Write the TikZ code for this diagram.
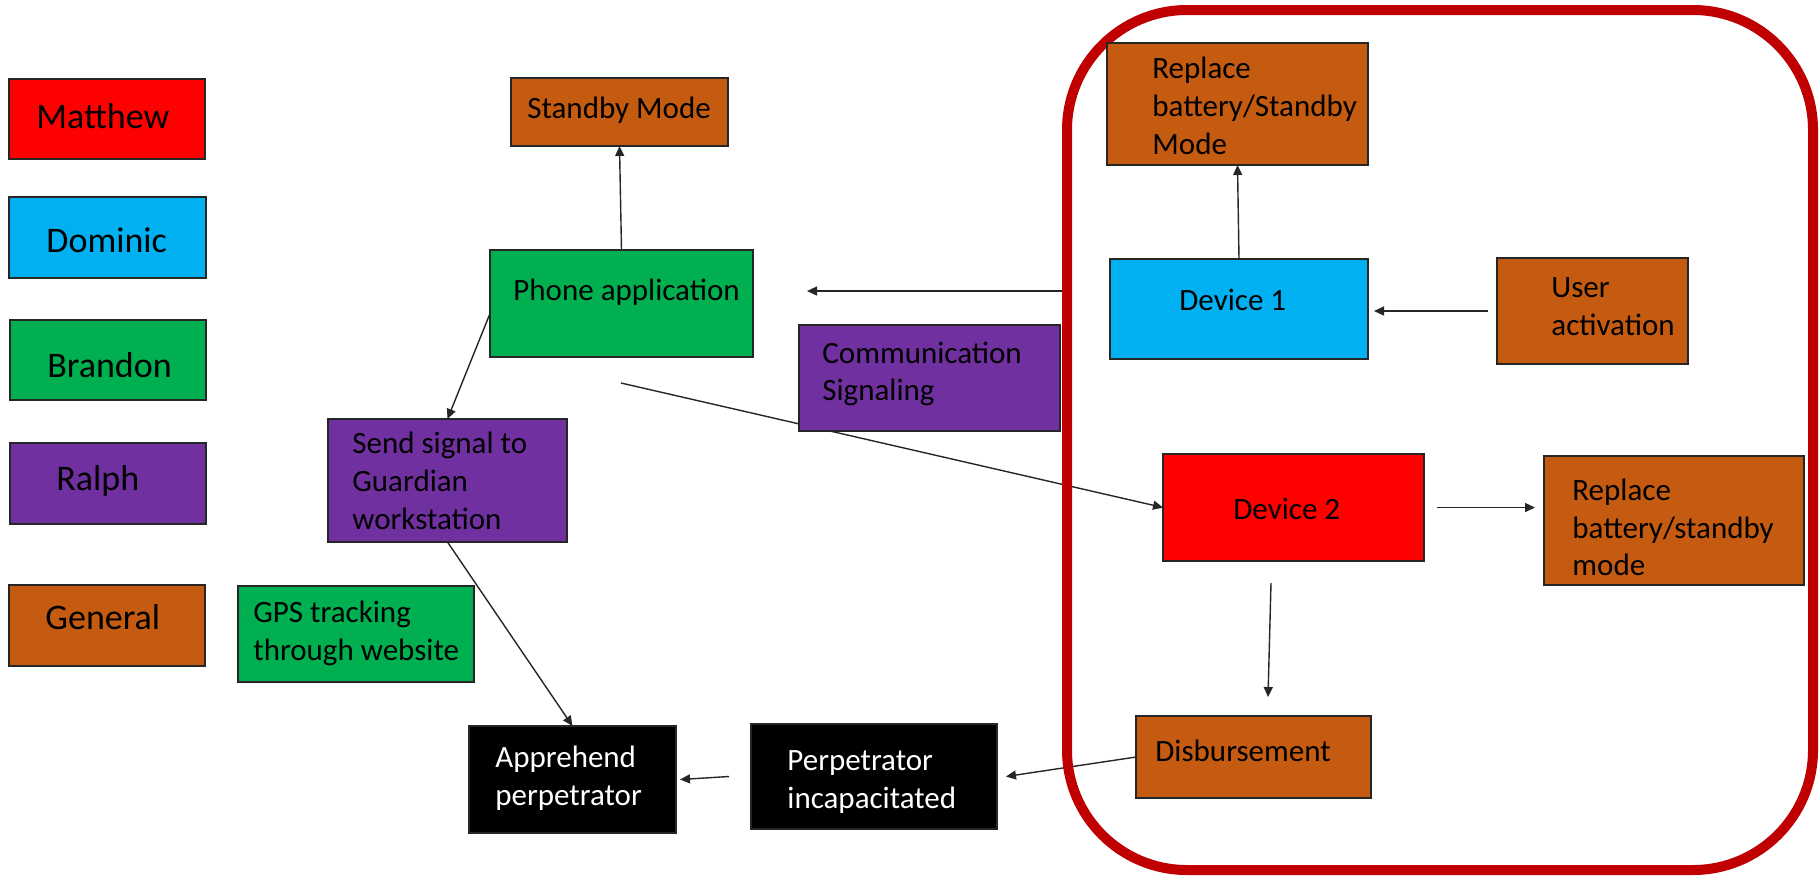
\documentclass[tikz,border=0pt]{standalone}
\usepackage{fontspec}
\setmainfont{Carlito}
\usetikzlibrary{arrows.meta,fit,backgrounds}

\definecolor{cRed}{HTML}{FF0000}
\definecolor{cBlue}{HTML}{00B0F0}
\definecolor{cGreen}{HTML}{00B050}
\definecolor{cPurple}{HTML}{7030A0}
\definecolor{cBrown}{HTML}{C55A11}
\definecolor{cFrame}{HTML}{C00000}
\definecolor{cEdge}{HTML}{262626}

\tikzset{
  box/.style={draw=cEdge, line width=0.75pt, inner sep=0pt, outer sep=0pt},
  txt/.style={inner sep=0pt, anchor=base west, font=\fontsize{15.5}{19}\selectfont},
  legtxt/.style={txt, font=\fontsize{18}{22}\selectfont},
  wtxt/.style={txt, text=white},
  link/.style={draw=cEdge, line width=0.7pt, -{Triangle[length=5pt,width=4.5pt]}},
}

\begin{document}
\begin{tikzpicture}[x=0.5pt,y=-0.5pt]
\useasboundingbox (0,0) rectangle (1819,880);

% device group frame
\node[draw=cFrame, line width=5pt, rounded corners=60pt, inner sep=0pt,
      fit={(1067,10)(1813,870)}] (grp) {};

% legend
\node[box, fill=cRed,    fit={(9,79)(205,159)}]   (lm) {};
\node[legtxt] (lmt) at (36,128) {Matthew};
\node[box, fill=cBlue,   fit={(9,197)(206,278)}]  (ld) {};
\node[legtxt] (ldt) at (46,252) {Dominic};
\node[box, fill=cGreen,  fit={(10,320)(206,400)}] (lb) {};
\node[legtxt] (lbt) at (47,377) {Brandon};
\node[box, fill=cPurple, fit={(10,443)(206,524)}] (lr) {};
\node[legtxt] (lrt) at (56,490) {Ralph};
\node[box, fill=cBrown,  fit={(9,585)(205,666)}]  (lg) {};
\node[legtxt] (lgt) at (45,629) {General};

% flow boxes
\node[box, fill=cBrown, fit={(511,78)(728,146)}] (stb) {};
\node[txt] (stbt) at (527,118) {Standby Mode};

\node[box, fill=cGreen, fit={(490,250)(753,357)}] (ph) {};
\node[txt] (pht) at (513,300) {Phone application};

\node[box, fill=cPurple, fit={(799,325)(1060,431)}] (com) {};
\node[txt] (coma) at (822,363) {Communication};
\node[txt] (comb) at (822,400) {Signaling};

\node[box, fill=cPurple, fit={(328,419)(567,542)}] (snd) {};
\node[txt] (snda) at (352,453) {Send signal to};
\node[txt] (sndb) at (352,491) {Guardian};
\node[txt] (sndc) at (352,529) {workstation};

\node[box, fill=cGreen, fit={(238,586)(474,682)}] (gps) {};
\node[txt] (gpsa) at (253,622) {GPS tracking};
\node[txt] (gpsb) at (253,660) {through website};

\node[box, fill=black, fit={(469,726)(676,833)}] (apr) {};
\node[wtxt] (apra) at (495,767) {Apprehend};
\node[wtxt] (aprb) at (495,805) {perpetrator};

\node[box, fill=black, fit={(751,724)(997,829)}] (perp) {};
\node[wtxt] (perpa) at (787,770) {Perpetrator};
\node[wtxt] (perpb) at (787,808) {incapacitated};

\node[box, fill=cBrown, fit={(1107,43)(1368,165)}] (rep1) {};
\node[txt] (rep1a) at (1152,78) {Replace};
\node[txt] (rep1b) at (1152,116) {battery/Standby};
\node[txt] (rep1c) at (1152,154) {Mode};

\node[box, fill=cBlue, fit={(1110,259)(1368,359)}] (dev1) {};
\node[txt] (dev1t) at (1179,310) {Device 1};

\node[box, fill=cBrown, fit={(1497,258)(1688,364)}] (usr) {};
\node[txt] (usra) at (1551,297) {User};
\node[txt] (usrb) at (1551,335) {activation};

\node[box, fill=cRed, fit={(1163,454)(1424,561)}] (dev2) {};
\node[txt] (dev2t) at (1233,519) {Device 2};

\node[box, fill=cBrown, fit={(1544,456)(1804,585)}] (rep2) {};
\node[txt] (rep2a) at (1572,500) {Replace};
\node[txt] (rep2b) at (1572,538) {battery/standby};
\node[txt] (rep2c) at (1572,575) {mode};

\node[box, fill=cBrown, fit={(1136,716)(1371,798)}] (dis) {};
\node[txt] (dist) at (1155,761) {Disbursement};

% free connector ends
\coordinate (cA) at (807,291);
\coordinate (cB) at (621,383);
\coordinate (cC) at (1271,583);
\coordinate (cD) at (1268,697);

% connectors, kept behind the boxes and the frame
\begin{scope}[on background layer]
  \draw[link] (ph.north) -- (stb.south);
  \draw[link] (grp.west |- cA) -- (cA);
  \draw[link] ([yshift=-5pt]ph.west) -- (snd.north);
  \draw[link] (snd.south) -- (apr.north);
  \draw[link] (cB) -- (dev2.west);
  \draw[link] (dev1.north) -- (rep1.south);
  \draw[link] ([xshift=-4.5pt]usr.west) -- ([xshift=3pt]dev1.east |- usr.west);
  \draw[link] ([xshift=6.5pt]dev2.east) -- ([xshift=-4.5pt]rep2.west |- dev2.east);
  \draw[link] (cC) -- (cD);
  \draw[link] (dis.west) -- ([xshift=4.5pt]perp.east);
  \draw[link] ([xshift=-11pt]perp.west) -- ([xshift=2pt]apr.east);
\end{scope}
\end{tikzpicture}
\end{document}
